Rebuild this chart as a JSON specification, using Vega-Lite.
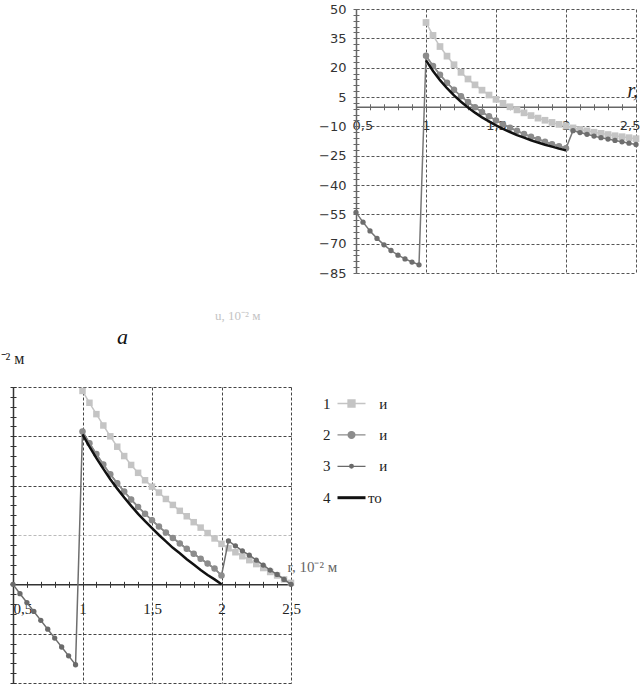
{
  "$schema": "https://vega.github.io/schema/vega-lite/v6.json",
  "background": "white",
  "padding": {"left": 0, "top": 3, "right": 0, "bottom": 0},
  "autosize": {"type": "pad"},
  "config": {"view": {"stroke": null}},
  "datasets": {
    "top": [
      {"r":1.00,"v":43.1,"s":"1"},{"r":1.05,"v":36.5,"s":"1"},{"r":1.10,"v":30.8,"s":"1"},{"r":1.15,"v":25.9,"s":"1"},{"r":1.20,"v":21.5,"s":"1"},{"r":1.25,"v":17.6,"s":"1"},{"r":1.30,"v":14.2,"s":"1"},{"r":1.35,"v":11.2,"s":"1"},{"r":1.40,"v":8.5,"s":"1"},{"r":1.45,"v":6.0,"s":"1"},{"r":1.50,"v":3.8,"s":"1"},{"r":1.55,"v":1.8,"s":"1"},{"r":1.60,"v":0.0,"s":"1"},{"r":1.65,"v":-1.6,"s":"1"},{"r":1.70,"v":-3.1,"s":"1"},{"r":1.75,"v":-4.5,"s":"1"},{"r":1.80,"v":-5.8,"s":"1"},{"r":1.85,"v":-6.9,"s":"1"},{"r":1.90,"v":-8.0,"s":"1"},{"r":1.95,"v":-9.0,"s":"1"},{"r":2.00,"v":-9.9,"s":"1"},{"r":2.05,"v":-10.8,"s":"1"},{"r":2.10,"v":-11.6,"s":"1"},{"r":2.15,"v":-12.3,"s":"1"},{"r":2.20,"v":-13.0,"s":"1"},{"r":2.25,"v":-13.6,"s":"1"},{"r":2.30,"v":-14.2,"s":"1"},{"r":2.35,"v":-14.8,"s":"1"},{"r":2.40,"v":-15.3,"s":"1"},{"r":2.45,"v":-15.8,"s":"1"},{"r":2.50,"v":-16.3,"s":"1"},
      {"r":1.00,"v":26.1,"s":"2"},{"r":1.05,"v":20.9,"s":"2"},{"r":1.10,"v":16.4,"s":"2"},{"r":1.15,"v":12.3,"s":"2"},{"r":1.20,"v":8.7,"s":"2"},{"r":1.25,"v":5.4,"s":"2"},{"r":1.30,"v":2.4,"s":"2"},{"r":1.35,"v":-0.2,"s":"2"},{"r":1.40,"v":-2.7,"s":"2"},{"r":1.45,"v":-4.9,"s":"2"},{"r":1.50,"v":-7.0,"s":"2"},{"r":1.55,"v":-8.9,"s":"2"},{"r":1.60,"v":-10.7,"s":"2"},{"r":1.65,"v":-12.3,"s":"2"},{"r":1.70,"v":-13.9,"s":"2"},{"r":1.75,"v":-15.3,"s":"2"},{"r":1.80,"v":-16.6,"s":"2"},{"r":1.85,"v":-17.9,"s":"2"},{"r":1.90,"v":-19.1,"s":"2"},{"r":1.95,"v":-20.2,"s":"2"},{"r":2.00,"v":-21.2,"s":"2"},
      {"r":0.50,"v":-54.0,"s":"3"},{"r":0.55,"v":-59.0,"s":"3"},{"r":0.60,"v":-63.5,"s":"3"},{"r":0.65,"v":-67.3,"s":"3"},{"r":0.70,"v":-70.6,"s":"3"},{"r":0.75,"v":-73.5,"s":"3"},{"r":0.80,"v":-75.9,"s":"3"},{"r":0.85,"v":-77.8,"s":"3"},{"r":0.90,"v":-79.4,"s":"3"},{"r":0.95,"v":-80.8,"s":"3"},
      {"r":1.00,"v":26.1,"s":"3"},{"r":1.05,"v":20.9,"s":"3"},{"r":1.10,"v":16.4,"s":"3"},{"r":1.15,"v":12.3,"s":"3"},{"r":1.20,"v":8.7,"s":"3"},{"r":1.25,"v":5.4,"s":"3"},{"r":1.30,"v":2.4,"s":"3"},{"r":1.35,"v":-0.2,"s":"3"},{"r":1.40,"v":-2.7,"s":"3"},{"r":1.45,"v":-4.9,"s":"3"},{"r":1.50,"v":-7.0,"s":"3"},{"r":1.55,"v":-8.9,"s":"3"},{"r":1.60,"v":-10.7,"s":"3"},{"r":1.65,"v":-12.3,"s":"3"},{"r":1.70,"v":-13.9,"s":"3"},{"r":1.75,"v":-15.3,"s":"3"},{"r":1.80,"v":-16.6,"s":"3"},{"r":1.85,"v":-17.9,"s":"3"},{"r":1.90,"v":-19.1,"s":"3"},{"r":1.95,"v":-20.2,"s":"3"},{"r":2.00,"v":-21.2,"s":"3"},
      {"r":2.05,"v":-12.2,"s":"3"},{"r":2.10,"v":-13.2,"s":"3"},{"r":2.15,"v":-14.1,"s":"3"},{"r":2.20,"v":-15.0,"s":"3"},{"r":2.25,"v":-15.8,"s":"3"},{"r":2.30,"v":-16.5,"s":"3"},{"r":2.35,"v":-17.2,"s":"3"},{"r":2.40,"v":-17.9,"s":"3"},{"r":2.45,"v":-18.6,"s":"3"},{"r":2.50,"v":-19.3,"s":"3"},
      {"r":1.00,"v":23.7,"s":"4"},{"r":1.05,"v":18.3,"s":"4"},{"r":1.10,"v":13.6,"s":"4"},{"r":1.15,"v":9.5,"s":"4"},{"r":1.20,"v":5.8,"s":"4"},{"r":1.25,"v":2.6,"s":"4"},{"r":1.30,"v":-0.4,"s":"4"},{"r":1.35,"v":-3.0,"s":"4"},{"r":1.40,"v":-5.4,"s":"4"},{"r":1.45,"v":-7.5,"s":"4"},{"r":1.50,"v":-9.5,"s":"4"},{"r":1.55,"v":-11.3,"s":"4"},{"r":1.60,"v":-12.9,"s":"4"},{"r":1.65,"v":-14.5,"s":"4"},{"r":1.70,"v":-15.8,"s":"4"},{"r":1.75,"v":-17.1,"s":"4"},{"r":1.80,"v":-18.3,"s":"4"},{"r":1.85,"v":-19.4,"s":"4"},{"r":1.90,"v":-20.4,"s":"4"},{"r":1.95,"v":-21.4,"s":"4"},{"r":2.00,"v":-22.3,"s":"4"}
    ],
    "bottom": [
      {"r":1.00,"v":39.2,"s":"1"},{"r":1.05,"v":36.8,"s":"1"},{"r":1.10,"v":34.5,"s":"1"},{"r":1.15,"v":32.2,"s":"1"},{"r":1.20,"v":30.0,"s":"1"},{"r":1.25,"v":27.9,"s":"1"},{"r":1.30,"v":26.0,"s":"1"},{"r":1.35,"v":24.2,"s":"1"},{"r":1.40,"v":22.6,"s":"1"},{"r":1.45,"v":21.1,"s":"1"},{"r":1.50,"v":19.8,"s":"1"},{"r":1.55,"v":18.6,"s":"1"},{"r":1.60,"v":17.3,"s":"1"},{"r":1.65,"v":16.1,"s":"1"},{"r":1.70,"v":14.9,"s":"1"},{"r":1.75,"v":13.8,"s":"1"},{"r":1.80,"v":12.6,"s":"1"},{"r":1.85,"v":11.5,"s":"1"},{"r":1.90,"v":10.4,"s":"1"},{"r":1.95,"v":9.3,"s":"1"},{"r":2.00,"v":8.2,"s":"1"},{"r":2.05,"v":7.3,"s":"1"},{"r":2.10,"v":6.5,"s":"1"},{"r":2.15,"v":5.7,"s":"1"},{"r":2.20,"v":4.9,"s":"1"},{"r":2.25,"v":4.1,"s":"1"},{"r":2.30,"v":3.3,"s":"1"},{"r":2.35,"v":2.5,"s":"1"},{"r":2.40,"v":1.8,"s":"1"},{"r":2.45,"v":1.0,"s":"1"},{"r":2.50,"v":0.3,"s":"1"},
      {"r":1.00,"v":31.0,"s":"2"},{"r":1.05,"v":28.6,"s":"2"},{"r":1.10,"v":26.4,"s":"2"},{"r":1.15,"v":24.3,"s":"2"},{"r":1.20,"v":22.3,"s":"2"},{"r":1.25,"v":20.5,"s":"2"},{"r":1.30,"v":18.8,"s":"2"},{"r":1.35,"v":17.2,"s":"2"},{"r":1.40,"v":15.7,"s":"2"},{"r":1.45,"v":14.3,"s":"2"},{"r":1.50,"v":13.0,"s":"2"},{"r":1.55,"v":11.7,"s":"2"},{"r":1.60,"v":10.5,"s":"2"},{"r":1.65,"v":9.4,"s":"2"},{"r":1.70,"v":8.3,"s":"2"},{"r":1.75,"v":7.2,"s":"2"},{"r":1.80,"v":6.2,"s":"2"},{"r":1.85,"v":5.2,"s":"2"},{"r":1.90,"v":4.2,"s":"2"},{"r":1.95,"v":3.2,"s":"2"},{"r":2.00,"v":1.8,"s":"2"},
      {"r":0.50,"v":0.0,"s":"3"},{"r":0.55,"v":-1.9,"s":"3"},{"r":0.60,"v":-3.7,"s":"3"},{"r":0.65,"v":-5.5,"s":"3"},{"r":0.70,"v":-7.3,"s":"3"},{"r":0.75,"v":-9.1,"s":"3"},{"r":0.80,"v":-10.9,"s":"3"},{"r":0.85,"v":-12.7,"s":"3"},{"r":0.90,"v":-14.5,"s":"3"},{"r":0.95,"v":-16.3,"s":"3"},
      {"r":1.00,"v":31.0,"s":"3"},{"r":1.05,"v":28.6,"s":"3"},{"r":1.10,"v":26.4,"s":"3"},{"r":1.15,"v":24.3,"s":"3"},{"r":1.20,"v":22.3,"s":"3"},{"r":1.25,"v":20.5,"s":"3"},{"r":1.30,"v":18.8,"s":"3"},{"r":1.35,"v":17.2,"s":"3"},{"r":1.40,"v":15.7,"s":"3"},{"r":1.45,"v":14.3,"s":"3"},{"r":1.50,"v":13.0,"s":"3"},{"r":1.55,"v":11.7,"s":"3"},{"r":1.60,"v":10.5,"s":"3"},{"r":1.65,"v":9.4,"s":"3"},{"r":1.70,"v":8.3,"s":"3"},{"r":1.75,"v":7.2,"s":"3"},{"r":1.80,"v":6.2,"s":"3"},{"r":1.85,"v":5.2,"s":"3"},{"r":1.90,"v":4.2,"s":"3"},{"r":1.95,"v":3.2,"s":"3"},{"r":2.00,"v":1.8,"s":"3"},
      {"r":2.05,"v":8.8,"s":"3"},{"r":2.10,"v":7.8,"s":"3"},{"r":2.15,"v":6.8,"s":"3"},{"r":2.20,"v":5.9,"s":"3"},{"r":2.25,"v":4.9,"s":"3"},{"r":2.30,"v":3.9,"s":"3"},{"r":2.35,"v":2.9,"s":"3"},{"r":2.40,"v":2.0,"s":"3"},{"r":2.45,"v":1.0,"s":"3"},{"r":2.50,"v":0.0,"s":"3"},
      {"r":1.00,"v":30.4,"s":"4"},{"r":1.05,"v":27.9,"s":"4"},{"r":1.10,"v":25.6,"s":"4"},{"r":1.15,"v":23.4,"s":"4"},{"r":1.20,"v":21.3,"s":"4"},{"r":1.25,"v":19.4,"s":"4"},{"r":1.30,"v":17.6,"s":"4"},{"r":1.35,"v":15.9,"s":"4"},{"r":1.40,"v":14.3,"s":"4"},{"r":1.45,"v":12.8,"s":"4"},{"r":1.50,"v":11.4,"s":"4"},{"r":1.55,"v":10.0,"s":"4"},{"r":1.60,"v":8.7,"s":"4"},{"r":1.65,"v":7.4,"s":"4"},{"r":1.70,"v":6.3,"s":"4"},{"r":1.75,"v":5.1,"s":"4"},{"r":1.80,"v":4.0,"s":"4"},{"r":1.85,"v":2.9,"s":"4"},{"r":1.90,"v":1.9,"s":"4"},{"r":1.95,"v":1.0,"s":"4"},{"r":2.00,"v":0.0,"s":"4"}
    ]
  },
  "columns": 2,
  "bounds": "flush",
  "spacing": {"row": 114, "column": 13},
  "concat": [
    {
      "width": 330,
      "height": 264,
      "data": {"values": [{}]},
      "mark": {"type": "text", "text": ""},
      "encoding": {},
      "title": {"text": "u, 10⁻² м", "orient": "bottom", "anchor": "start", "frame": "group", "dx": 202, "offset": 37, "font": "Liberation Serif", "fontSize": 13, "fontWeight": "normal", "color": "#c4c4c4"}
    },
    {
      "width": 280,
      "height": 264,
      "data": {"name": "top"},
      "resolve": {"scale": {"x": "independent", "y": "independent"}},
      "layer": [
        {
          "transform": [{"filter": "datum.s === '1'"}],
          "mark": {"type": "line", "color": "#c4c4c4", "strokeWidth": 1.5, "point": {"shape": "square", "size": 45, "filled": true, "color": "#c4c4c4", "opacity": 1}},
          "encoding": {
            "x": {"field": "r", "type": "quantitative", "scale": {"domain": [0.5, 2.5], "nice": false, "zero": false},
              "axis": {"orient": "bottom", "values": [0.5, 1, 1.5, 2, 2.5], "grid": true, "gridDash": [3, 2], "gridColor": "#555555", "gridWidth": 1, "domain": false, "ticks": false, "labels": false, "title": null}},
            "y": {"field": "v", "type": "quantitative", "scale": {"domain": [-85, 50], "nice": false, "zero": false},
              "axis": {"orient": "left", "values": [-85, -70, -55, -40, -25, -10, 5, 20, 35, 50], "grid": true, "gridDash": [3, 2], "gridColor": "#555555", "gridWidth": 1, "domain": true, "domainColor": "#666666", "domainWidth": 1.5, "ticks": false, "labelPadding": 10, "labelFont": "DejaVu Sans", "labelFontSize": 13, "labelColor": "#333333", "title": null}}
          }
        },
        {
          "transform": [{"filter": "datum.s === '3'"}],
          "mark": {"type": "line", "color": "#777777", "strokeWidth": 1.5, "point": {"shape": "circle", "size": 28, "filled": true, "color": "#6e6e6e", "opacity": 1}},
          "encoding": {
            "x": {"field": "r", "type": "quantitative", "scale": {"domain": [0.5, 2.5], "nice": false, "zero": false},
              "axis": {"orient": "bottom", "offset": -166.22, "values": [0.5,0.6,0.7,0.8,0.9,1,1.1,1.2,1.3,1.4,1.5,1.6,1.7,1.8,1.9,2,2.1,2.2,2.3,2.4,2.5], "grid": false, "domain": true, "domainColor": "#666666", "domainWidth": 1.5, "ticks": true, "tickSize": 3, "tickColor": "#666666", "tickWidth": 1,
                "labelExpr": "abs(datum.value*2-round(datum.value*2))<0.01 ? replace(format(datum.value,'.2~f'),'.',',') : ''",
                "labelOverlap": false, "labelFlush": true, "labelFlushOffset": 4, "labelPadding": 10, "labelFont": "DejaVu Sans", "labelFontSize": 13, "labelColor": "#333333",
                "title": "r,", "titleFont": "Liberation Serif", "titleFontStyle": "italic", "titleFontWeight": "normal", "titleFontSize": 20, "titleColor": "#222222", "titleX": 271, "titleY": -16, "titleAlign": "left", "titleBaseline": "middle", "titleAngle": 0}},
            "y": {"field": "v", "type": "quantitative", "scale": {"domain": [-85, 50], "nice": false, "zero": false},
              "axis": {"orient": "left", "values": [-85,-82,-79,-76,-73,-70,-67,-64,-61,-58,-55,-52,-49,-46,-43,-40,-37,-34,-31,-28,-25,-22,-19,-16,-13,-10,-7,-4,-1,2,5,8,11,14,17,20,23,26,29,32,35,38,41,44,47,50], "grid": false, "domain": false, "ticks": true, "tickSize": 3, "tickColor": "#666666", "labels": false, "title": null}}
          }
        },
        {
          "transform": [{"filter": "datum.s === '2'"}],
          "mark": {"type": "line", "color": "#8c8c8c", "strokeWidth": 1.5, "point": {"shape": "circle", "size": 42, "filled": true, "color": "#8c8c8c", "opacity": 1}},
          "encoding": {
            "x": {"field": "r", "type": "quantitative", "scale": {"domain": [0.5, 2.5], "nice": false, "zero": false},
              "axis": {"orient": "bottom", "offset": -169.22, "values": [0.5,0.6,0.7,0.8,0.9,1,1.1,1.2,1.3,1.4,1.5,1.6,1.7,1.8,1.9,2,2.1,2.2,2.3,2.4,2.5], "grid": false, "domain": false, "ticks": true, "tickSize": 3, "tickColor": "#666666", "labels": false, "title": null}},
            "y": {"field": "v", "type": "quantitative", "scale": {"domain": [-85, 50], "nice": false, "zero": false},
              "axis": {"orient": "left", "offset": -3, "values": [-85,-82,-79,-76,-73,-70,-67,-64,-61,-58,-55,-52,-49,-46,-43,-40,-37,-34,-31,-28,-25,-22,-19,-16,-13,-10,-7,-4,-1,2,5,8,11,14,17,20,23,26,29,32,35,38,41,44,47,50], "grid": false, "domain": false, "ticks": true, "tickSize": 3, "tickColor": "#666666", "labels": false, "title": null}}
          }
        },
        {
          "transform": [{"filter": "datum.s === '4'"}],
          "mark": {"type": "line", "color": "#111111", "strokeWidth": 2.5},
          "encoding": {
            "x": {"field": "r", "type": "quantitative", "scale": {"domain": [0.5, 2.5], "nice": false, "zero": false}, "axis": null},
            "y": {"field": "v", "type": "quantitative", "scale": {"domain": [-85, 50], "nice": false, "zero": false}, "axis": null}
          }
        }
      ]
    },
    {
      "width": 278,
      "height": 296,
      "data": {"name": "bottom"},
      "title": {"text": "а", "orient": "top", "anchor": "start", "frame": "group", "dx": 104, "offset": -16, "font": "Liberation Serif", "fontStyle": "italic", "fontSize": 22, "fontWeight": "normal", "color": "#111111", "baseline": "alphabetic"},
      "resolve": {"scale": {"x": "independent", "y": "independent"}},
      "layer": [
        {
          "transform": [{"filter": "datum.s === '1'"}],
          "mark": {"type": "line", "color": "#c4c4c4", "strokeWidth": 1.5, "point": {"shape": "square", "size": 42, "filled": true, "color": "#c4c4c4", "opacity": 1}},
          "encoding": {
            "x": {"field": "r", "type": "quantitative", "scale": {"domain": [0.5, 2.5], "nice": false, "zero": false},
              "axis": {"orient": "bottom", "values": [0.5, 1, 1.5, 2, 2.5], "grid": true, "gridDash": [3, 2], "gridColor": "#444444", "gridWidth": 1, "domain": false, "ticks": false, "labels": false, "title": null}},
            "y": {"field": "v", "type": "quantitative", "scale": {"domain": [-20, 40], "nice": false, "zero": false},
              "axis": {"orient": "left", "values": [-20, -10, 0, 10, 20, 30, 40], "grid": true, "gridDash": [3, 2], "gridColor": {"condition": {"test": "datum.value === 10", "value": "#bbbbbb"}, "value": "#444444"}, "gridWidth": 1, "domain": true, "domainColor": "#333333", "domainWidth": 1.5, "ticks": false, "labels": false,
                "title": "⁻² м", "titleFont": "Liberation Serif", "titleFontSize": 16, "titleFontWeight": "normal", "titleColor": "#222222", "titleAngle": 0, "titleX": -13, "titleY": -29, "titleAlign": "left", "titleBaseline": "middle"}}
          }
        },
        {
          "transform": [{"filter": "datum.s === '3'"}],
          "mark": {"type": "line", "color": "#6e6e6e", "strokeWidth": 1.5, "point": {"shape": "circle", "size": 28, "filled": true, "color": "#6a6a6a", "opacity": 1}},
          "encoding": {
            "x": {"field": "r", "type": "quantitative", "scale": {"domain": [0.5, 2.5], "nice": false, "zero": false},
              "axis": {"orient": "bottom", "offset": -98.67, "values": [0.5,0.6,0.7,0.8,0.9,1,1.1,1.2,1.3,1.4,1.5,1.6,1.7,1.8,1.9,2,2.1,2.2,2.3,2.4,2.5], "grid": false, "domain": true, "domainColor": "#333333", "domainWidth": 1.5, "ticks": true, "tickSize": 3, "tickColor": "#333333", "tickWidth": 1,
                "labelExpr": "abs(datum.value*2-round(datum.value*2))<0.01 ? replace(format(datum.value,'.2~f'),'.',',') : ''",
                "labelOverlap": false, "labelFlush": false, "labelAlign": {"condition": {"test": "datum.value === 0.5", "value": "left"}, "value": "center"}, "labelPadding": 14, "labelFont": "Liberation Serif", "labelFontSize": 15, "labelColor": "#222222",
                "title": "r, 10⁻² м", "titleFont": "Liberation Serif", "titleFontWeight": "normal", "titleFontSize": 15, "titleColor": "#666666", "titleX": 274, "titleY": -18, "titleAlign": "left", "titleBaseline": "middle", "titleAngle": 0}},
            "y": {"field": "v", "type": "quantitative", "scale": {"domain": [-20, 40], "nice": false, "zero": false},
              "axis": {"orient": "left", "values": [-20,-18,-16,-14,-12,-10,-8,-6,-4,-2,0,2,4,6,8,10,12,14,16,18,20,22,24,26,28,30,32,34,36,38,40], "grid": false, "domain": false, "ticks": true, "tickSize": 3, "tickColor": "#333333", "labels": false, "title": null}}
          }
        },
        {
          "transform": [{"filter": "datum.s === '2'"}],
          "mark": {"type": "line", "color": "#8c8c8c", "strokeWidth": 1.5, "point": {"shape": "circle", "size": 42, "filled": true, "color": "#8c8c8c", "opacity": 1}},
          "encoding": {
            "x": {"field": "r", "type": "quantitative", "scale": {"domain": [0.5, 2.5], "nice": false, "zero": false},
              "axis": {"orient": "bottom", "offset": -101.67, "values": [0.5,0.6,0.7,0.8,0.9,1,1.1,1.2,1.3,1.4,1.5,1.6,1.7,1.8,1.9,2,2.1,2.2,2.3,2.4,2.5], "grid": false, "domain": false, "ticks": true, "tickSize": 3, "tickColor": "#333333", "labels": false, "title": null}},
            "y": {"field": "v", "type": "quantitative", "scale": {"domain": [-20, 40], "nice": false, "zero": false},
              "axis": {"orient": "left", "offset": -3, "values": [-20,-18,-16,-14,-12,-10,-8,-6,-4,-2,0,2,4,6,8,10,12,14,16,18,20,22,24,26,28,30,32,34,36,38,40], "grid": false, "domain": false, "ticks": true, "tickSize": 3, "tickColor": "#333333", "labels": false, "title": null}}
          }
        },
        {
          "transform": [{"filter": "datum.s === '4'"}],
          "mark": {"type": "line", "color": "#111111", "strokeWidth": 2.5},
          "encoding": {
            "x": {"field": "r", "type": "quantitative", "scale": {"domain": [0.5, 2.5], "nice": false, "zero": false}, "axis": null},
            "y": {"field": "v", "type": "quantitative", "scale": {"domain": [-20, 40], "nice": false, "zero": false}, "axis": null}
          }
        },
        {
          "mark": {"type": "point", "filled": true, "opacity": 0},
          "encoding": {
            "x": {"field": "r", "type": "quantitative", "scale": {"domain": [0.5, 2.5], "nice": false, "zero": false}, "axis": null},
            "y": {"field": "v", "type": "quantitative", "scale": {"domain": [-20, 40], "nice": false, "zero": false}, "axis": null},
            "color": {"field": "s", "type": "nominal", "scale": {"domain": ["1", "2", "3", "4"], "range": ["#c4c4c4", "#8c8c8c", "#6a6a6a", "#111111"]},
              "legend": {"orient": "none", "legendX": 331, "legendY": 387, "title": null, "padding": 0, "symbolSize": 784, "symbolStrokeWidth": 1.3, "symbolOpacity": 1,
                "labelOffset": -36, "rowPadding": 15.4, "labelFont": "Liberation Serif", "labelFontSize": 15, "labelColor": "#222222", "labelLimit": 300,
                "labelExpr": "datum.value === '4' ? '4\u00a0\u00a0\u00a0\u00a0\u00a0\u00a0\u00a0\u00a0\u00a0\u00a0то' : datum.value + '\u00a0\u00a0\u00a0\u00a0\u00a0\u00a0\u00a0\u00a0\u00a0\u00a0\u00a0\u00a0\u00a0и'",
                "encode": {"symbols": {"update": {
                  "shape": {"signal": "datum.value === '1' ? 'M-1,0H1M-0.25,-0.25H0.25V0.25H-0.25Z' : datum.value === '2' ? 'M-1,0H1M-0.24,0A0.24,0.24,0,1,1,0.24,0A0.24,0.24,0,1,1,-0.24,0Z' : datum.value === '3' ? 'M-1,0H1M-0.13,0A0.13,0.13,0,1,1,0.13,0A0.13,0.13,0,1,1,-0.13,0Z' : 'M-1,0H1'"},
                  "fill": {"signal": "datum.value === '1' ? '#c4c4c4' : datum.value === '2' ? '#8c8c8c' : datum.value === '3' ? '#6a6a6a' : 'transparent'"},
                  "stroke": {"signal": "datum.value === '1' ? '#c4c4c4' : datum.value === '2' ? '#8c8c8c' : datum.value === '3' ? '#6a6a6a' : '#111111'"},
                  "strokeWidth": {"signal": "datum.value === '4' ? 3 : 1.3"},
                  "opacity": {"value": 1}
                }}}
              }}
          }
        }
      ]
    }
  ]
}
